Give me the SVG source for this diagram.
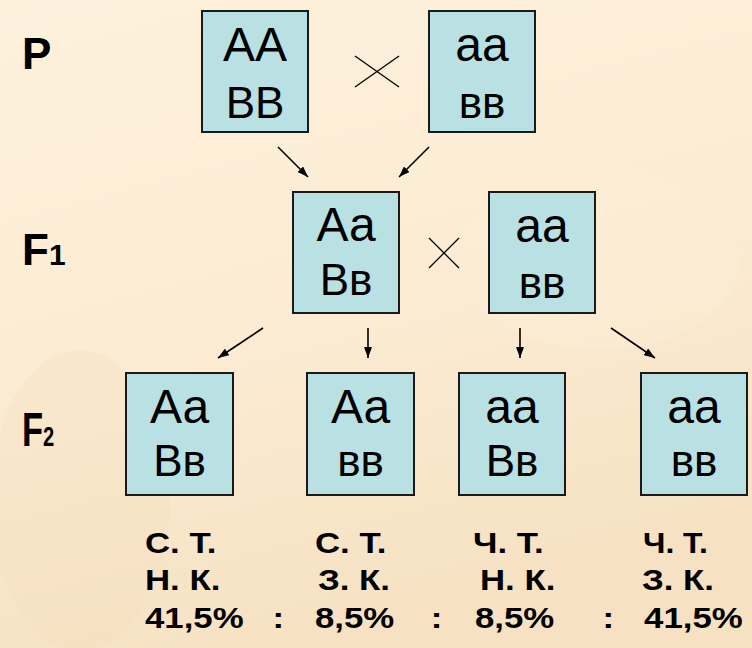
<svg xmlns="http://www.w3.org/2000/svg" width="752" height="648" viewBox="0 0 752 648">
<style>
.bg{fill:url(#bgGrad)}
.box{fill:#B9E0E3;stroke:#1a1a1a;stroke-width:2}
.g1{font-family:"Liberation Sans",Arial,sans-serif;font-size:48px;fill:#000;text-anchor:middle}
.g2{font-family:"Liberation Sans",Arial,sans-serif;font-size:44px;fill:#000;text-anchor:middle}
.lbl{font-family:"Liberation Sans",Arial,sans-serif;font-weight:bold;fill:#000}
.res{font-family:"Liberation Sans",Arial,sans-serif;font-weight:bold;font-size:29px;fill:#000}
.arr{stroke:#000;stroke-width:1.6;fill:none;marker-end:url(#ah)}
.cross{stroke:#000;stroke-width:1.3;fill:none}
</style>
<defs>
<linearGradient id="bgGrad" x1="0" y1="0" x2="0.3" y2="1">
<stop offset="0" stop-color="#FDF1DD"/>
<stop offset="0.6" stop-color="#FBEBD2"/>
<stop offset="1" stop-color="#F6E2C3"/>
</linearGradient>
<marker id="ah" markerUnits="userSpaceOnUse" markerWidth="11" markerHeight="8" refX="11" refY="4" orient="auto">
<path d="M0,0 L11,4 L0,8 z" fill="#000"/>
</marker>
</defs>
<rect class="bg" x="0" y="0" width="752" height="648"/>
<ellipse cx="80" cy="500" rx="90" ry="150" fill="#F3DDBB" opacity="0.25"/>
<ellipse cx="600" cy="260" rx="140" ry="90" fill="#FFF6E6" opacity="0.15"/>

<g id="label-P"><text class="lbl" x="22" y="69" font-size="44">P</text></g>
<g id="label-F1"><text class="lbl" x="22" y="265" font-size="44">F<tspan font-size="30">1</tspan></text></g>
<g id="label-F2"><text class="lbl" transform="translate(22,446) scale(0.72,1)" x="0" y="0" font-size="48">F<tspan font-size="28">2</tspan></text></g>

<g id="connectors">
<line class="cross" x1="355" y1="56" x2="399" y2="87"/>
<line class="cross" x1="355" y1="87" x2="399" y2="56"/>
<line class="cross" x1="429" y1="238" x2="459" y2="268"/>
<line class="cross" x1="429" y1="268" x2="459" y2="238"/>
<line class="arr" x1="278" y1="147" x2="308" y2="177"/>
<line class="arr" x1="429" y1="147" x2="399" y2="177"/>
<line class="arr" x1="263" y1="328" x2="218" y2="358"/>
<line class="arr" x1="368" y1="328" x2="368" y2="358"/>
<line class="arr" x1="520" y1="328" x2="520" y2="358"/>
<line class="arr" x1="611" y1="328" x2="655" y2="358"/>
</g>

<g id="p1"><rect class="box" x="202" y="11" width="106" height="121"/><text class="g1" x="255" y="61">АА</text><text class="g2" x="255" y="118">ВВ</text></g>
<g id="p2"><rect class="box" x="429" y="11" width="106" height="121"/><text class="g1" x="482" y="61">аа</text><text class="g2" x="482" y="118">вв</text></g>

<g id="f1a"><rect class="box" x="293" y="192" width="106" height="121"/><text class="g1" x="346" y="241">Аа</text><text class="g2" x="346" y="295">Вв</text></g>
<g id="f1b"><rect class="box" x="489" y="192" width="106" height="121"/><text class="g1" x="542" y="242">аа</text><text class="g2" x="542" y="298">вв</text></g>

<g id="f2a"><rect class="box" x="126" y="373" width="107" height="122"/><text class="g1" x="179.5" y="423">Аа</text><text class="g2" x="179.5" y="476">Вв</text></g>
<g id="f2b"><rect class="box" x="307" y="373" width="107" height="122"/><text class="g1" x="360.5" y="423">Аа</text><text class="g2" x="360.5" y="476">вв</text></g>
<g id="f2c"><rect class="box" x="459" y="373" width="106" height="122"/><text class="g1" x="512" y="423">аа</text><text class="g2" x="512" y="476">Вв</text></g>
<g id="f2d"><rect class="box" x="641" y="373" width="106" height="122"/><text class="g1" x="694" y="423">аа</text><text class="g2" x="694" y="476">вв</text></g>

<g id="results">
<text class="res" transform="translate(145,553) scale(1.2,1)">С. Т.</text>
<text class="res" transform="translate(315,553) scale(1.2,1)">С. Т.</text>
<text class="res" transform="translate(473,553) scale(1.2,1)">Ч. Т.</text>
<text class="res" transform="translate(643,553) scale(1.1,1)">Ч. Т.</text>
<text class="res" transform="translate(145,590) scale(1.2,1)">Н. К.</text>
<text class="res" transform="translate(318,590) scale(1.2,1)">З. К.</text>
<text class="res" transform="translate(480,590) scale(1.2,1)">Н. К.</text>
<text class="res" transform="translate(642,590) scale(1.2,1)">З. К.</text>
<text class="res" transform="translate(0,628) scale(1.2,1)"><tspan x="120.8">41,5%</tspan> <tspan x="227">:</tspan> <tspan x="262.5">8,5%</tspan> <tspan x="359">:</tspan> <tspan x="395.8">8,5%</tspan> <tspan x="502">:</tspan> <tspan x="536.7">41,5%</tspan></text>
</g>
</svg>
